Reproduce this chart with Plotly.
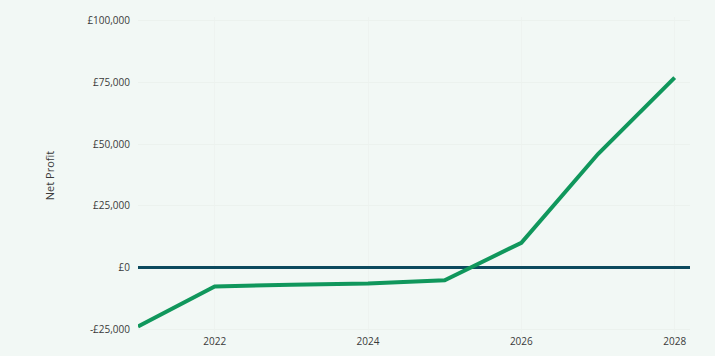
import plotly.graph_objects as go

# Net profit projection by year
years = [2021, 2022, 2023, 2024, 2025, 2026, 2027, 2028]
net_profit = [-24000, -7700, -7000, -6500, -5200, 10000, 46000, 77000]

x_ticks = [2022, 2024, 2026, 2028]
x_tick_labels = ["2022", "2024", "2026", "2028"]
y_ticks = [-25000, 0, 25000, 50000, 75000, 100000]
y_tick_labels = ["-£25,000", "£0", "£25,000", "£50,000", "£75,000", "£100,000"]

fig = go.Figure()

# Break-even reference line
fig.add_trace(go.Scatter(
    x=[2021, 2028.2], y=[0, 0], mode="lines",
    line=dict(color="#0c4a5e", width=3),
    hoverinfo="skip", showlegend=False,
))

fig.add_trace(go.Scatter(
    x=years, y=net_profit, mode="lines",
    line=dict(color="#10975c", width=4),
    showlegend=False,
))

fig.update_layout(
    width=715, height=356,
    margin=dict(l=138, r=25, t=17, b=22),
    paper_bgcolor="#f2f8f5",
    plot_bgcolor="#f2f8f5",
    font=dict(family="Open Sans, sans-serif", size=10, color="#3a3a3a"),
    xaxis=dict(
        range=[2021, 2028.2],
        tickvals=x_ticks, ticktext=x_tick_labels,
        showgrid=True, gridcolor="#eef3f0", gridwidth=1,
        zeroline=False, showline=False, ticks="",
        automargin=False,
        ticklabelstandoff=0,
        tickfont=dict(size=10, color="#3a3a3a"),
    ),
    yaxis=dict(
        range=[-27000, 101600],
        tickvals=y_ticks, ticktext=y_tick_labels,
        showgrid=True, gridcolor="#ecf2ee", gridwidth=1,
        zeroline=False, showline=False, ticks="",
        automargin=False,
        ticklabelstandoff=7,
        title=dict(text="Net Profit", font=dict(size=11, color="#3a3a3a"), standoff=30),
        tickfont=dict(size=10, color="#3a3a3a"),
    ),
)

fig.write_html("out.html")
